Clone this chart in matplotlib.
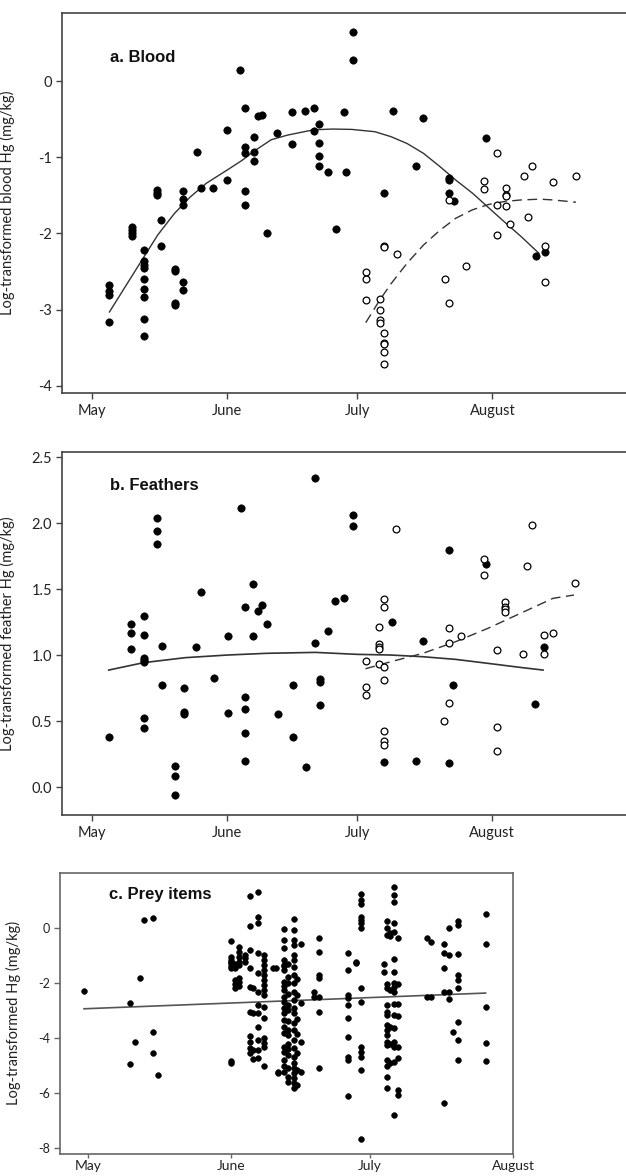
import numpy as np
import matplotlib.pyplot as plt

plt.rcParams['font.family'] = ['Lato', 'DejaVu Sans']
plt.rcParams['axes.unicode_minus'] = False

# days since 1 May
month_days = [0, 31, 61, 92]
month_names = ["May", "June", "July", "August"]

# ---- a. Blood: (day, [values]) columns
blood_filled = [
    (4.0, [-2.67, -2.76, -2.81, -3.16]),
    (9.2, [-1.92, -1.96, -1.99, -2.03]),
    (11.85, [-2.22, -2.36, -2.41, -2.45, -2.60, -2.73, -2.83, -3.12, -3.35]),
    (14.9, [-1.43, -1.47, -1.50]),
    (15.9, [-1.82, -2.16]),
    (19.0, [-2.46, -2.49, -2.91, -2.94]),
    (21.0, [-1.44, -1.55, -1.62, -2.63, -2.74]),
    (24.1, [-0.93]),
    (25.0, [-1.40]),
    (27.9, [-1.40]),
    (31.0, [-1.30, -0.64]),
    (34.0, [0.15]),
    (35.1, [-0.36, -0.86, -0.95, -1.44, -1.63]),
    (37.2, [-0.74, -0.93, -1.05]),
    (38.2, [-0.455]),
    (39.1, [-0.44]),
    (40.2, [-1.99]),
    (42.4, [-0.68]),
    (46.0, [-0.41, -0.83]),
    (49.0, [-0.39]),
    (51.1, [-0.36, -0.65]),
    (52.2, [-0.56, -0.81, -0.98, -1.11]),
    (54.2, [-1.20]),
    (56.0, [-1.94]),
    (58.0, [-0.41]),
    (58.4, [-1.19]),
    (59.9, [0.64, 0.28]),
    (67.0, [-1.475]),
    (69.1, [-0.39]),
    (74.4, [-1.11]),
    (76.0, [-0.49]),
    (82.1, [-1.27, -1.30, -1.475]),
    (83.1, [-1.58]),
    (90.6, [-0.75]),
    (102.0, [-2.29]),
    (104.0, [-2.24]),
]
blood_open = [
    (63.0, [-2.51, -2.60, -2.875]),
    (66.1, [-2.86, -3.01, -3.14, -3.17]),
    (67.0, [-2.16, -2.175, -3.31, -3.44, -3.45, -3.56, -3.71]),
    (70.0, [-2.27]),
    (81.1, [-2.60]),
    (82.1, [-2.91, -1.56]),
    (86.0, [-2.42]),
    (90.1, [-1.31, -1.42]),
    (93.0, [-0.95, -1.63, -2.02]),
    (95.1, [-1.40, -1.49, -1.51, -1.64]),
    (96.0, [-1.88]),
    (99.2, [-1.25]),
    (100.2, [-1.79]),
    (101.0, [-1.12]),
    (104.0, [-2.16, -2.64]),
    (106.0, [-1.33]),
    (111.3, [-1.24]),
]
blood_fit_day = [4.0, 11.9, 15.1, 18.9, 22.6, 26.3, 31.0, 34.5, 37.5, 41.2, 44.9, 50.9, 55.4, 59.7,
                 65.0, 68.7, 72.4, 76.2, 79.9, 83.6, 87.4, 91.1, 94.8, 98.6, 102.7]
blood_fit_hg = [-3.03, -2.31, -2.02, -1.74, -1.52, -1.34, -1.17, -1.04, -0.91, -0.77, -0.71, -0.64, -0.63,
                -0.635, -0.665, -0.73, -0.82, -0.95, -1.12, -1.30, -1.47, -1.66, -1.85, -2.04, -2.26]
blood_fit2_day = [62.9, 66.1, 68.7, 72.4, 76.2, 79.9, 83.6, 87.4, 91.1, 94.8, 98.6, 103.0, 106.0, 111.2]
blood_fit2_hg = [-3.17, -2.875, -2.66, -2.39, -2.15, -1.96, -1.80, -1.69, -1.62, -1.58, -1.56, -1.55, -1.56, -1.59]

# ---- b. Feathers
feather_filled = [
    (4.0, [0.377]),
    (9.1, [1.234, 1.17, 1.044]),
    (11.9, [1.30, 1.153, 0.975, 0.963, 0.95, 0.52, 0.445]),
    (15.1, [2.04, 1.94, 1.845]),
    (16.1, [1.067, 0.771]),
    (19.2, [0.162, 0.081, -0.058]),
    (21.1, [0.748, 0.571, 0.554]),
    (24.0, [1.06]),
    (25.2, [1.48]),
    (28.1, [0.824]),
    (31.2, [1.145, 0.564]),
    (34.3, [2.116]),
    (35.3, [1.365, 0.685, 0.594, 0.412, 0.20]),
    (37.0, [1.542, 1.145]),
    (38.1, [1.337]),
    (39.1, [1.378]),
    (40.2, [1.234]),
    (42.8, [0.556]),
    (46.2, [0.771, 0.377]),
    (49.2, [0.149]),
    (51.3, [2.34, 1.092]),
    (52.4, [0.816, 0.80, 0.62]),
    (54.3, [1.18]),
    (56.0, [1.413]),
    (58.0, [1.43]),
    (60.0, [2.06, 1.98]),
    (67.1, [0.192]),
    (68.9, [1.249]),
    (74.5, [0.20]),
    (76.1, [1.11]),
    (82.1, [1.80, 0.185]),
    (83.1, [0.771]),
    (90.6, [1.69]),
    (101.8, [0.627]),
    (103.9, [1.064]),
]
feather_open = [
    (63.0, [0.955, 0.756, 0.695]),
    (66.1, [1.216, 1.082, 1.064, 1.047, 0.93]),
    (67.1, [1.423, 1.362, 0.907, 0.81, 0.427, 0.349, 0.318]),
    (70.0, [1.957]),
    (81.0, [0.503]),
    (82.1, [1.203, 1.094, 0.634]),
    (84.9, [1.145]),
    (90.1, [1.726, 1.605]),
    (93.1, [1.041, 0.452, 0.27]),
    (94.9, [1.403, 1.368, 1.347, 1.325]),
    (99.1, [1.009]),
    (100.1, [1.673]),
    (101.1, [1.984]),
    (103.9, [1.153, 1.009]),
    (106.0, [1.17]),
    (111.0, [1.55]),
]
feather_fit_day = [3.9, 11.9, 21.5, 31.2, 40.2, 51.4, 61.0, 68.7, 76.1, 83.6, 91.0, 98.5, 103.7]
feather_fit_hg = [0.887, 0.943, 0.981, 1.001, 1.014, 1.021, 1.006, 1.001, 0.988, 0.968, 0.938, 0.907, 0.887]
feather_fit2_day = [62.9, 68.7, 76.1, 83.6, 91.0, 98.5, 106.0, 110.8]
feather_fit2_hg = [0.897, 0.95, 1.014, 1.102, 1.203, 1.317, 1.431, 1.456]

# ---- c. Prey items
prey = [
    (-0.7, [-2.30]),
    (9.2, [-2.74, -4.94]),
    (10.2, [-4.15]),
    (11.3, [-1.84]),
    (12.2, [0.27]),
    (14.2, [0.36, -3.77, -4.53]),
    (15.1, [-5.35]),
    (31.0, [-0.47, -1.05, -1.17, -1.23, -1.29, -1.39, -1.45, -4.85, -4.92]),
    (31.8, [-1.30, -1.38, -1.45, -1.90, -2.05, -2.20]),
    (32.6, [-0.70, -0.87, -1.05, -1.23, -1.35, -1.84, -1.98, -2.12]),
    (34.0, [-0.98, -1.10, -1.25]),
    (35.0, [1.15, 0.07, -0.79, -1.47, -2.14, -3.07, -3.92, -4.13, -4.37, -4.53]),
    (35.8, [-2.20, -3.10, -4.45, -4.75]),
    (36.8, [1.31, 0.40, 0.16, -0.93, -1.66, -2.32, -2.81, -3.11, -3.59, -4.07, -4.43, -4.74]),
    (38.0, [-0.99, -1.17, -1.35, -1.53, -1.72, -1.90, -2.08, -2.26, -2.44, -2.86, -3.29, -4.01, -4.17,
            -4.34, -5.01]),
    (40.0, [-1.47]),
    (40.8, [-1.47]),
    (41.1, [-5.22, -5.28]),
    (42.4, [-0.05, -0.45, -0.75, -1.17, -1.35, -1.53, -1.96, -2.26, -2.68, -2.92, -3.35, -3.83, -4.31,
            -4.80, -5.22, -1.40, -2.10, -2.50, -3.10, -3.60, -4.50, -5.00]),
    (43.4, [-1.30, -1.80, -2.40, -2.80, -3.40, -3.90, -4.40, -4.60, -5.10, -5.40, -2.00, -3.00,
            -3.70, -4.20, -5.60]),
    (44.5, [0.31, -0.08, -0.45, -0.63, -0.99, -1.17, -1.41, -1.72, -2.02, -2.32, -2.62, -2.92, -3.11,
            -3.47, -3.71, -4.07, -4.37, -4.68, -4.92, -5.10, -5.28, -5.46, -5.64, -5.82]),
    (45.2, [-1.85, -2.45, -3.30, -3.85, -4.55, -5.15, -5.70]),
    (46.0, [-0.59, -2.74, -4.13, -5.22]),
    (48.9, [-2.32, -2.50]),
    (50.0, [-0.39, -0.87, -1.72, -1.84, -2.50, -3.05, -5.10]),
    (56.2, [-0.91, -1.53, -2.44, -2.56, -2.80, -3.29, -3.95, -4.68, -4.80, -6.09]),
    (58.1, [-1.23, -1.29]),
    (59.0, [1.21, 1.00, 0.85, 0.40, 0.28, 0.16, -0.02, -2.18, -2.68, -4.31, -4.49, -4.68, -5.16, -7.66]),
    (64.1, [-1.32, -1.62]),
    (64.6, [0.24, -0.02, -0.27, -2.05, -2.20, -2.80, -3.05, -3.17, -3.53, -3.71, -3.89, -4.13, -4.25,
            -4.80, -5.00, -5.43, -5.80]),
    (65.4, [-0.30, -0.20, -2.25, -3.60, -4.20, -4.90]),
    (66.2, [1.49, 1.18, 0.94, 0.16, -0.15, -1.14, -1.60, -2.02, -2.14, -2.32, -2.78, -3.17, -3.65,
            -4.13, -4.31, -4.86, -6.79]),
    (67.1, [-0.39, -2.04, -2.77, -3.20, -4.31, -4.74, -5.89, -6.07]),
    (73.3, [-0.39, -2.50]),
    (74.3, [-0.51, -2.53]),
    (77.1, [-0.60, -0.93, -1.47, -2.32, -6.34]),
    (78.2, [-0.02, -0.99, -2.32, -2.60]),
    (79.0, [-3.77]),
    (80.1, [0.24, 0.10, -0.97, -1.72, -1.90, -2.18, -3.41, -4.07, -4.80]),
    (86.2, [0.48, -0.60, -2.88, -4.17, -4.83]),
]
prey_fit_day = [-0.8, 86.0]
prey_fit_hg = [-2.94, -2.37]


def expand(cols):
    xs = [d for d, vals in cols for _ in vals]
    ys = [v for _, vals in cols for v in vals]
    return np.array(xs), np.array(ys)


def style_axes(ax, spine_col, hide_right):
    for side in ['left', 'top', 'bottom', 'right']:
        ax.spines[side].set_color(spine_col)
        ax.spines[side].set_linewidth(1.2)
    if hide_right:
        ax.spines['right'].set_visible(False)
    ax.set_xticks(month_days)
    ax.set_xticklabels(month_names)
    ax.tick_params(axis='both', direction='out', length=4, width=1, color=spine_col,
                   labelsize=10.5, labelcolor='#222222', pad=3)
    ax.tick_params(axis='x', pad=4)


fig = plt.figure(figsize=(6.26, 11.76), dpi=100)

# panel a
ax1 = fig.add_axes([0.099, 0.6661, 0.91, 0.3231])
x, y = expand(blood_filled)
ax1.scatter(x, y, s=28, c='black', edgecolors='black', linewidths=0.5, zorder=3)
x, y = expand(blood_open)
ax1.scatter(x, y, s=24, facecolors='white', edgecolors='black', linewidths=0.9, zorder=3)
ax1.plot(blood_fit_day, blood_fit_hg, color='#333333', lw=1.0, zorder=2)
ax1.plot(blood_fit2_day, blood_fit2_hg, color='#333333', lw=1.0, dashes=(7, 4), zorder=2)
ax1.set_xlim(-6.9, 124)
ax1.set_ylim(-4.088, 0.896)
ax1.set_yticks([-4, -3, -2, -1, 0])
ax1.set_yticklabels(['-4', '-3', '-2', '-1', '0'])
style_axes(ax1, '#444444', True)
ax1.set_ylabel("Log-transformed blood Hg (mg/kg)", fontsize=10.5, color='#222222')
ax1.yaxis.set_label_coords(-0.082, 0.5)
ax1.text(0.085, 0.883, "a. Blood", transform=ax1.transAxes, ha='left', va='center',
         fontsize=12, family='Liberation Sans', fontweight='bold', color='#111111')

# panel b
ax2 = fig.add_axes([0.0986, 0.3070, 0.91, 0.3089])
x, y = expand(feather_filled)
ax2.scatter(x, y, s=28, c='black', edgecolors='black', linewidths=0.5, zorder=3)
x, y = expand(feather_open)
ax2.scatter(x, y, s=24, facecolors='white', edgecolors='black', linewidths=0.9, zorder=3)
ax2.plot(feather_fit_day, feather_fit_hg, color='#333333', lw=1.2, zorder=2)
ax2.plot(feather_fit2_day, feather_fit2_hg, color='#333333', lw=1.0, dashes=(7, 4), zorder=2)
ax2.set_xlim(-6.9, 124)
ax2.set_ylim(-0.212, 2.543)
ax2.set_yticks([0.0, 0.5, 1.0, 1.5, 2.0, 2.5])
ax2.set_yticklabels(['0.0', '0.5', '1.0', '1.5', '2.0', '2.5'])
style_axes(ax2, '#444444', True)
ax2.set_ylabel("Log-transformed feather Hg (mg/kg)", fontsize=10.5, color='#222222')
ax2.yaxis.set_label_coords(-0.082, 0.5)
ax2.text(0.0856, 0.908, "b. Feathers", transform=ax2.transAxes, ha='left', va='center',
         fontsize=12, family='Liberation Sans', fontweight='bold', color='#111111')

# panel c
ax3 = fig.add_axes([0.0958, 0.0187, 0.7242, 0.2392])
x, y = expand(prey)
ax3.scatter(x, y, s=17, c='black', edgecolors='black', linewidths=0.4, zorder=3)
ax3.plot(prey_fit_day, prey_fit_hg, color='#555555', lw=1.2, zorder=2)
ax3.set_xlim(-6.0, 92)
ax3.set_ylim(-8.207, 1.995)
ax3.set_yticks([-8, -6, -4, -2, 0])
ax3.set_yticklabels(['-8', '-6', '-4', '-2', '0'])
style_axes(ax3, '#666666', False)
ax3.tick_params(axis='y', labelsize=9)
ax3.tick_params(axis='x', labelsize=10, length=3, pad=1)
ax3.set_ylabel("Log-transformed Hg (mg/kg)", fontsize=10.5, color='#222222')
ax3.yaxis.set_label_coords(-0.085, 0.5)
ax3.text(0.108, 0.923, "c. Prey items", transform=ax3.transAxes, ha='left', va='center',
         fontsize=12, family='Liberation Sans', fontweight='bold', color='#111111')

fig.savefig("out.png", dpi=100)
